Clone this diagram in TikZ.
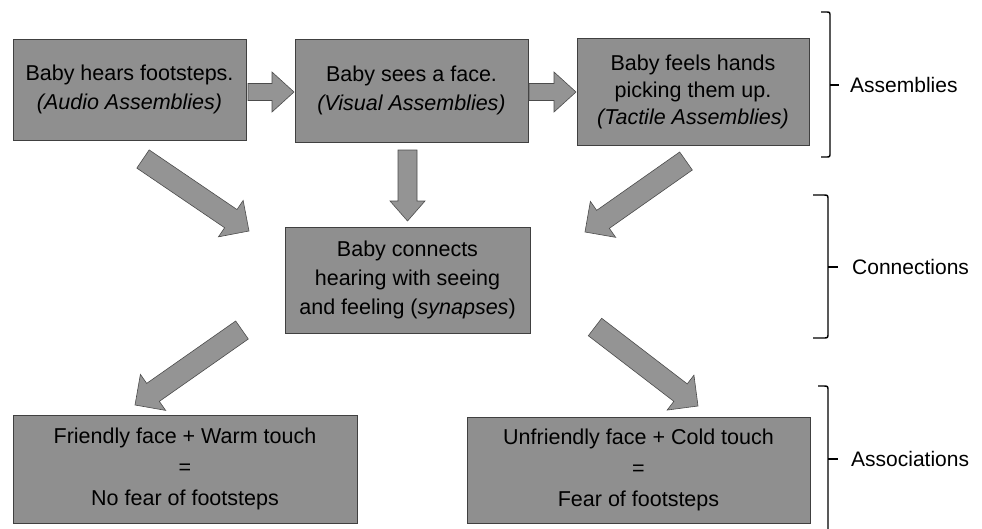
\documentclass[tikz,border=0pt]{standalone}
\usepackage{fontspec}
\setmainfont{Liberation Sans}
\usetikzlibrary{calc}

% block arrow: #1 tail, #2 tip, #3 half shaft width, #4 half head width, #5 head length
\newcommand{\blockarr}[5]{%
  \path ($(#2)!#5!(#1)$) coordinate (hb);
  \draw[arrowbody] ($(#1)!#3!90:(#2)$) -- ($(hb)!#3!-90:(#1)$)
    -- ($(hb)!#4!-90:(#1)$) -- (#2) -- ($(hb)!#4!90:(#1)$)
    -- ($(hb)!#3!90:(#1)$) -- ($(#1)!#3!-90:(#2)$) -- cycle;}

\tikzset{
  stagebox/.style={draw=black!75, line width=0.7pt, fill=black!44,
    align=center, inner sep=0pt, text=black,
    font=\fontsize{21.5}{29}\selectfont},
  arrowbody/.style={draw=black!70, line width=0.6pt, fill=black!42, line join=miter},
  bracket/.style={draw=black, line width=1.4pt},
  levellabel/.style={anchor=west, inner sep=0pt, font=\fontsize{21}{26}\selectfont}
}

\begin{document}
\begin{tikzpicture}[x=1pt, y=-1pt]
\useasboundingbox (0,0) rectangle (982,528);

% sensory assemblies
\node[stagebox, minimum width=233pt, minimum height=101pt] (audio) at (129.5,89.5)
  {Baby hears footsteps.\\\textit{(Audio Assemblies)}};
\node[stagebox, minimum width=233pt, minimum height=103pt] (visual) at (411.5,90.5)
  {Baby sees a face.\\\textit{(Visual Assemblies)}};
\node[stagebox, minimum width=232pt, minimum height=107pt,
  font=\fontsize{21.5}{27}\selectfont] (tactile) at (693,91.5)
  {Baby feels hands\\picking them up.\\\textit{(Tactile Assemblies)}};

% connections
\node[stagebox, minimum width=245pt, minimum height=106pt] (connect) at (407.5,280)
  {Baby connects\\hearing with seeing\\and feeling (\textit{synapses})};

% associations
\node[stagebox, minimum width=344pt, minimum height=108pt,
  font=\fontsize{21.5}{31}\selectfont] (friendly) at (185,469)
  {Friendly face + Warm touch\\=\\No fear of footsteps};
\node[stagebox, minimum width=343pt, minimum height=106pt,
  font=\fontsize{21.5}{31}\selectfont] (unfriendly) at (638.5,470)
  {Unfriendly face + Cold touch\\=\\Fear of footsteps};

% arrow ends
\coordinate (avS) at (248,92);   \coordinate (avE) at (294,92);
\coordinate (vtS) at (529,92);   \coordinate (vtE) at (576,92);
\coordinate (vcS) at (407.5,150); \coordinate (vcE) at (407.5,221);
\coordinate (acS) at (143,159);  \coordinate (acE) at (249,231);
\coordinate (tcS) at (686,161);  \coordinate (tcE) at (585,232);
\coordinate (clS) at (242,330);  \coordinate (clE) at (135,405);
\coordinate (crS) at (595,327);  \coordinate (crE) at (698,406);

\blockarr{avS}{avE}{8.5pt}{20pt}{22pt}
\blockarr{vtS}{vtE}{8.5pt}{20pt}{22pt}
\blockarr{vcS}{vcE}{9.5pt}{17.5pt}{20pt}
\blockarr{acS}{acE}{11pt}{22pt}{22pt}
\blockarr{tcS}{tcE}{11pt}{22pt}{22pt}
\blockarr{clS}{clE}{11pt}{22pt}{22pt}
\blockarr{crS}{crE}{11pt}{22pt}{22pt}

% level brackets
\draw[bracket] (821,12) -- (826,12) .. controls (830,12) .. (830,17) -- (830,152)
  .. controls (830,157) .. (826,157) -- (821,157);
\draw[bracket] (830,85) -- (839,85);
\draw[bracket] (813,195) -- (823,195) .. controls (828,195) .. (828,200) -- (828,333)
  .. controls (828,338) .. (823,338) -- (813,338);
\draw[bracket] (828,267) -- (838,267);
\draw[bracket] (818,386) -- (823,386) .. controls (828,386) .. (828,391) -- (828,540);
\draw[bracket] (828,459) -- (838,459);

\node[levellabel] (lblA) at (850,85) {Assemblies};
\node[levellabel] (lblC) at (852,267) {Connections};
\node[levellabel] (lblS) at (851,459) {Associations};
\end{tikzpicture}
\end{document}
